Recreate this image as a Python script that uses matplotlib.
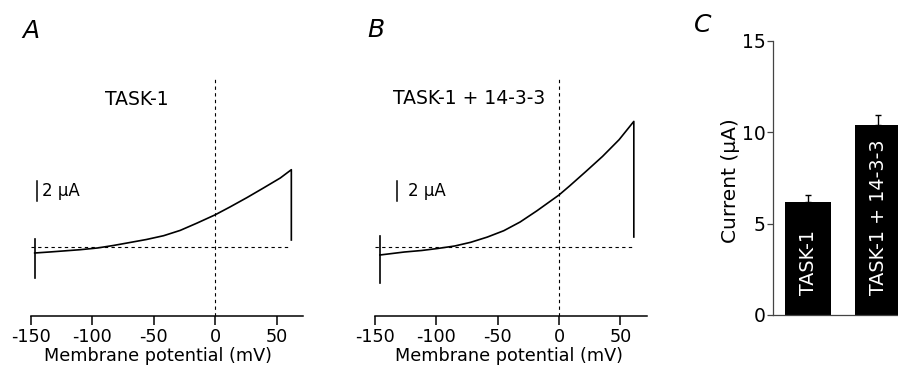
import matplotlib
matplotlib.use('Agg')
import matplotlib.pyplot as plt

plt.rcParams['font.family'] = ['DejaVu Sans']

# ---- data ----
volt_a = [-147, -135, -124, -110, -96, -83, -69, -56, -42, -28.5, -15, 0, 12, 26, 39, 53, 62, 62]
curr_a = [-0.6, -0.5, -0.4, -0.27, -0.1, 0.15, 0.46, 0.75, 1.13, 1.66, 2.38, 3.22, 4.0, 4.95, 5.88, 6.9, 7.73, 0.7]
spike_a_v = [-147, -147]
spike_a_i = [0.8, -3.1]

volt_b = [-146, -136, -126, -112, -99, -85, -72, -58.5, -45, -31.7, -18, 0, 8.6, 22, 35.5, 49, 61, 61]
curr_b = [-0.8, -0.65, -0.5, -0.35, -0.15, 0.1, 0.47, 0.99, 1.63, 2.5, 3.62, 5.2, 6.1, 7.56, 9.06, 10.73, 12.56, 1.0]
spike_b_v = [-146, -146]
spike_b_i = [1.1, -3.6]

xticks_iv = [-150, -100, -50, 0, 50]

bar_labels = ['TASK-1', 'TASK-1 + 14-3-3']
bar_values = [6.19, 10.40]
bar_errors = [0.36, 0.56]
yticks_c = [0, 5, 10, 15]

W, H = 898, 374
fig = plt.figure(figsize=(W / 100, H / 100), dpi=100)

def iv_panel(rect, volt, curr, sv, si, end_v, title, title_xy, sb_x, sb_text_x, xlab_x):
    ax = fig.add_axes(rect)
    ax.set_xlim(-150, 71.5)
    ax.set_ylim(-6.9, 17.0)
    for s in ['left', 'right', 'top']:
        ax.spines[s].set_visible(False)
    ax.spines['bottom'].set_linewidth(1.1)
    ax.set_yticks([])
    ax.set_xticks(xticks_iv)
    ax.set_xticklabels([str(v) for v in xticks_iv])
    ax.tick_params(axis='x', direction='out', length=6.5, width=1.1, pad=2, labelsize=12.7)
    ax.axvline(0, color='black', lw=0.8, ls=(0, (3, 3)))
    ax.plot([-150, end_v], [0, 0], color='black', lw=0.8, ls=(0, (3, 3)))
    ax.plot(volt, curr, color='black', lw=1.2)
    ax.plot(sv, si, color='black', lw=1.2)
    ax.text(title_xy[0], title_xy[1], title, ha='center', va='center', fontsize=13.5)
    ax.plot([sb_x, sb_x], [4.56, 6.56], color='black', lw=1.1)
    ax.text(sb_text_x, 5.56, '2 μA', ha='left', va='center', fontsize=12)
    ax.text(xlab_x, (316 - 355.7) / 239, 'Membrane potential (mV)', transform=ax.transAxes,
            ha='center', va='center', fontsize=12.7)
    return ax

axA = iv_panel([31 / W, 58 / H, 272 / W, 239 / H], volt_a, curr_a, spike_a_v, spike_a_i, 62,
               'TASK-1', (-63.8, 14.7), -144.8, -141, 0.465)
axB = iv_panel([375 / W, 58 / H, 271.7 / W, 239 / H], volt_b, curr_b, spike_b_v, spike_b_i, 61,
               'TASK-1 + 14-3-3', (-73.4, 14.8), -131.9, -123, 0.493)

# ---- panel C ----
axC = fig.add_axes([772.7 / W, 59 / H, (920 - 772.7) / W, 274.3 / H])
axC.set_xlim(-0.506, 1.6)
axC.set_ylim(0, 15)
for s in ['right', 'top']:
    axC.spines[s].set_visible(False)
for s in ['left', 'bottom']:
    axC.spines[s].set_linewidth(0.9)
    axC.spines[s].set_color('#444444')
xs = list(range(len(bar_values)))
axC.bar(xs, bar_values, width=0.665, color='black')
axC.errorbar(xs, bar_values, yerr=[[0] * len(bar_errors), bar_errors], fmt='none',
             ecolor='black', elinewidth=1.0, capsize=2, capthick=1.0)
for x, lab in zip(xs, bar_labels):
    axC.text(x, 1.1, lab, rotation=90, color='white', ha='center', va='bottom', fontsize=13.8)
axC.set_xticks([])
axC.set_yticks(yticks_c)
axC.set_yticklabels([str(v) for v in yticks_c])
axC.tick_params(axis='y', direction='out', length=4, width=0.9, color='#444444', pad=1, labelsize=13.5)
axC.set_ylabel('Current (μA)', fontsize=14.5)
axC.yaxis.set_label_coords((740 - 772.7) / 147.3, 0.49)

# panel letters
fig.text(22 / W, 1 - 38 / H, 'A', style='italic', fontsize=18, va='baseline')
fig.text(367 / W, 1 - 37 / H, 'B', style='italic', fontsize=18, va='baseline')
fig.text(694 / W, 1 - 32 / H, 'C', style='italic', fontsize=18, va='baseline')

fig.savefig('out.png', dpi=100)
